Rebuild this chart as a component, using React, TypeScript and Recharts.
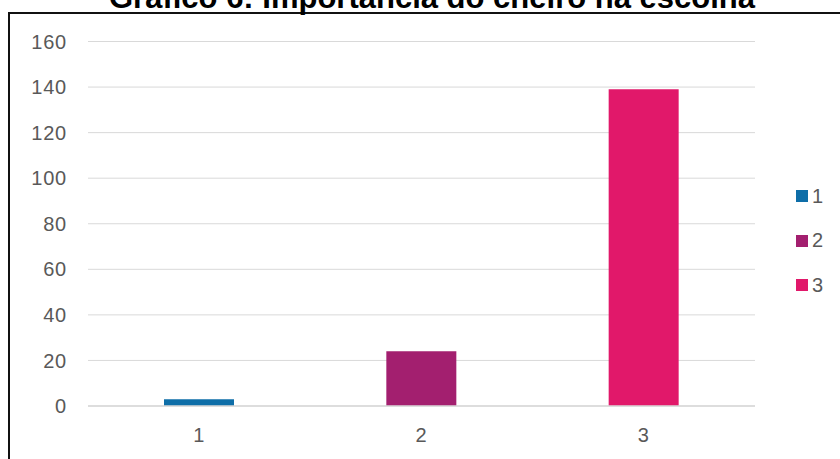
import React from 'react';
import { BarChart, Bar, XAxis, YAxis, CartesianGrid, Cell } from 'recharts';

const categories = ['1', '2', '3'];
const values = [3, 24, 139];
const yTicks = [0, 20, 40, 60, 80, 100, 120, 140, 160];
const barColors = ['#0e6ea8', '#a31f6f', '#e1186a'];
const title = 'Gráfico 6: Importância do cheiro na escolha';

const data = categories.map((name, i) => ({ name, value: values[i] }));

const FONT = "'Liberation Sans', Arial, sans-serif";
const tickStyle = { fill: '#595959', fontSize: 20, fontFamily: FONT, letterSpacing: 0.8 };

export default function App() {
    return (
        <div style={{ position: 'absolute', left: 0, top: 0, width: 840, height: 459, overflow: 'hidden', background: '#fff' }}>
            <div
                style={{
                    position: 'absolute', left: 8, top: 12, width: 1000, height: 600,
                    borderLeft: '2px solid #111', borderTop: '2px solid #111',
                }}
            />
            <div
                style={{
                    position: 'absolute', left: 0, width: 864, top: -18, textAlign: 'center',
                    fontFamily: FONT, fontWeight: 'bold', fontSize: 31, lineHeight: '31px', color: '#000',
                    whiteSpace: 'nowrap',
                }}
            >
                {title}
            </div>
            <div style={{ position: 'absolute', left: 0, top: 0 }}>
                <BarChart width={840} height={459} data={data} margin={{ top: 41.5, right: 85, left: 0, bottom: 0 }}>
                    <CartesianGrid stroke="#d9d9d9" vertical={false} />
                    <XAxis
                        dataKey="name"
                        height={53}
                        axisLine={{ stroke: '#d9d9d9', strokeWidth: 1.5 }}
                        tickLine={false}
                        tickSize={6}
                        tickMargin={16}
                        tick={tickStyle}
                    />
                    <YAxis
                        width={88}
                        domain={[0, 160]}
                        ticks={yTicks}
                        interval={0}
                        axisLine={false}
                        tickLine={false}
                        tickSize={6}
                        tickMargin={15}
                        tick={tickStyle}
                    />
                    <Bar dataKey="value" barSize={70} isAnimationActive={false}>
                        {data.map((_, i) => (
                            <Cell key={i} fill={barColors[i]} />
                        ))}
                    </Bar>
                </BarChart>
            </div>
            <div style={{ position: 'absolute', left: 796, top: 174, fontFamily: FONT, fontSize: 20, color: '#595959' }}>
                {categories.map((c, i) => (
                    <div key={c} style={{ display: 'flex', alignItems: 'center', height: 44.5 }}>
                        <span style={{ width: 12, height: 12, background: barColors[i], marginRight: 4 }} />
                        <span>{c}</span>
                    </div>
                ))}
            </div>
        </div>
    );
}
